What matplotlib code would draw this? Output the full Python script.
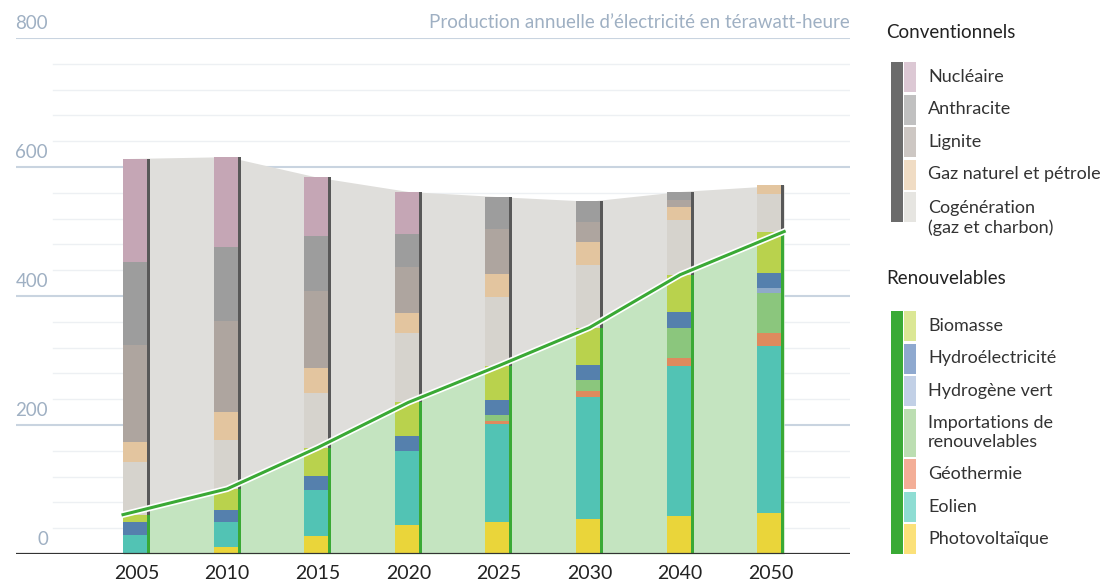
import matplotlib
matplotlib.use('Agg')
import matplotlib.pyplot as plt
import matplotlib.patheffects as pe
from matplotlib.patches import Rectangle
from matplotlib.transforms import blended_transform_factory
import numpy as np

plt.rcParams['font.family'] = ['Lato', 'DejaVu Sans']

years = ['2005', '2010', '2015', '2020', '2025', '2030', '2040', '2050']

# renouvelables (TWh), de bas en haut
photovoltaique = [1, 11, 28, 45, 50, 55, 59, 63]
eolien = [28, 38, 71, 114, 151, 189, 233, 260]
geothermie = [0, 0, 0, 1, 5, 8, 12, 20]
importations = [0, 0, 0, 0, 10, 18, 46, 62]
hydrogene = [0, 0, 0, 0, 0, 0, 0, 7]
hydro = [20, 19, 22, 23, 22, 23, 25, 24]
biomasse = [12, 33, 44, 52, 54, 58, 58, 64]

# conventionnels (TWh), de bas en haut
cogeneration = [81, 76, 84, 108, 106, 97, 85, 58]
gaz = [32, 43, 40, 31, 36, 36, 20, 14]
lignite = [150, 141, 118, 71, 70, 31, 11, 0]
anthracite = [128, 115, 86, 51, 50, 32, 13, 0]
nucleaire = [161, 140, 91, 66, 0, 0, 0, 0]

ren_series = [photovoltaique, eolien, geothermie, importations, hydrogene, hydro, biomasse]
ren_colors = ['#ead53a', '#52c3b4', '#de8a5e', '#8bc67d', '#8faac8', '#5580ad', '#b9d24d']
conv_series = [cogeneration, gaz, lignite, anthracite, nucleaire]
conv_colors = ['#d6d3cd', '#e3c59f', '#aea59f', '#9d9d9d', '#c5a6b5']

conv_labels = ['Nucléaire', 'Anthracite', 'Lignite', 'Gaz naturel et pétrole',
               'Cogénération\n(gaz et charbon)']
conv_leg_colors = ['#dcc8d4', '#c0c0c0', '#cdc7c3', '#f0dcc4', '#e6e5e1']
ren_labels = ['Biomasse', 'Hydroélectricité', 'Hydrogène vert',
              'Importations de\nrenouvelables', 'Géothermie', 'Eolien', 'Photovoltaïque']
ren_leg_colors = ['#dbe795', '#8fa9cf', '#c2d0e6', '#bcdeb2', '#f3ae97', '#8fddd3', '#fbe17a']

W, H = 1116, 580
fig = plt.figure(figsize=(W / 100, H / 100), dpi=100)
ax = fig.add_axes([16 / W, (H - 554) / H, 834 / W, (554 - 38) / H])
unit = 90.6
xmin = -1.33
ax.set_xlim(xmin, xmin + 834 / unit)
ax.set_ylim(0, 800)
for s in ax.spines.values():
    s.set_visible(False)
ax.set_yticks([])

x = np.arange(len(years))
ren_tot = np.sum(ren_series, axis=0)
tot = ren_tot + np.sum(conv_series, axis=0)

# grid
minor_start = (53 - 16) / 834
for v in range(40, 800, 40):
    if v % 200:
        ax.axhline(v, xmin=minor_start, xmax=1, color='#edf0f3', lw=1, zorder=0)
for v in [200, 400, 600, 800]:
    ax.axhline(v, color='#c9d4e0', lw=1.5, zorder=0)
ax.axhline(0, color='#333333', lw=1.6, zorder=6)

lab_tr = blended_transform_factory(ax.transAxes, ax.transData)
for v in [0, 200, 400, 600, 800]:
    ax.annotate(str(v), (32 / 834, v), xycoords=lab_tr, xytext=(0, 6.5), textcoords='offset points',
                ha='right', va='baseline', fontsize=13.5, color='#9fb0c3')
ax.annotate('Production annuelle d\u2019électricité en térawatt-heure', (1.0, 800), xycoords=lab_tr,
            xytext=(0, 7), textcoords='offset points', ha='right', va='baseline',
            fontsize=13.5, color='#9fb0c3')

# areas
bw = 0.265
left = -0.149
vx = x.astype(float).copy()
vx[0] = x[0] + left
vx[-1] = x[-1] - left
ax.fill_between(vx, ren_tot, tot, color='#dfdedb', lw=0, zorder=1)
ax.fill_between(vx, 0, ren_tot, color='#c4e4c0', lw=0, zorder=2)

# stacked bars
bottom = np.zeros(len(years))
for vals, c in zip(ren_series + conv_series, ren_colors + conv_colors):
    ax.bar(x + left, vals, width=bw, bottom=bottom, align='edge', color=c, lw=0, zorder=3)
    bottom += np.array(vals)
ax.bar(x + left + bw, ren_tot, width=0.033, align='edge', color='#3aa935', lw=0, zorder=3)
ax.bar(x + left + bw, tot - ren_tot, bottom=ren_tot, width=0.033, align='edge',
       color='#585858', lw=0, zorder=3)

ax.plot(vx, ren_tot, color='#3aa935', lw=2.2, zorder=5,
        path_effects=[pe.Stroke(linewidth=4.6, foreground='white'), pe.Normal()])

ax.set_xticks(x)
ax.set_xticklabels(years, fontsize=14, color='#222222')
ax.tick_params(axis='x', length=0, pad=8)

# legend
lax = fig.add_axes([0, 0, 1, 1])
lax.set_xlim(0, W)
lax.set_ylim(H, 0)
lax.axis('off')


def legend_block(title, ty, labels, colors, heights, top, barcolor):
    lax.text(886, ty, title, fontsize=13.5, color='#222222', va='center')
    y = top
    for lab, c, h in zip(labels, colors, heights):
        lax.add_patch(Rectangle((904, y), 12, h, color=c, lw=0))
        n = lab.count('\n') + 1
        ty2 = y + h / 2 if h > 30 else y + 15 + 11 * (n - 1)
        lax.text(928, ty2, lab, fontsize=13, color='#333333', va='center', linespacing=1.2)
        y += h + 2.5
    lax.add_patch(Rectangle((891, top), 12, y - 2.5 - top, color=barcolor, lw=0))


legend_block('Conventionnels', 32, conv_labels, conv_leg_colors, [30] * 5, 62, '#6b6b6b')
legend_block('Renouvelables', 278, ren_labels, ren_leg_colors, [30, 30, 30, 48, 30, 30, 30], 311, '#3aaa35')

fig.savefig('out.png', dpi=100)
